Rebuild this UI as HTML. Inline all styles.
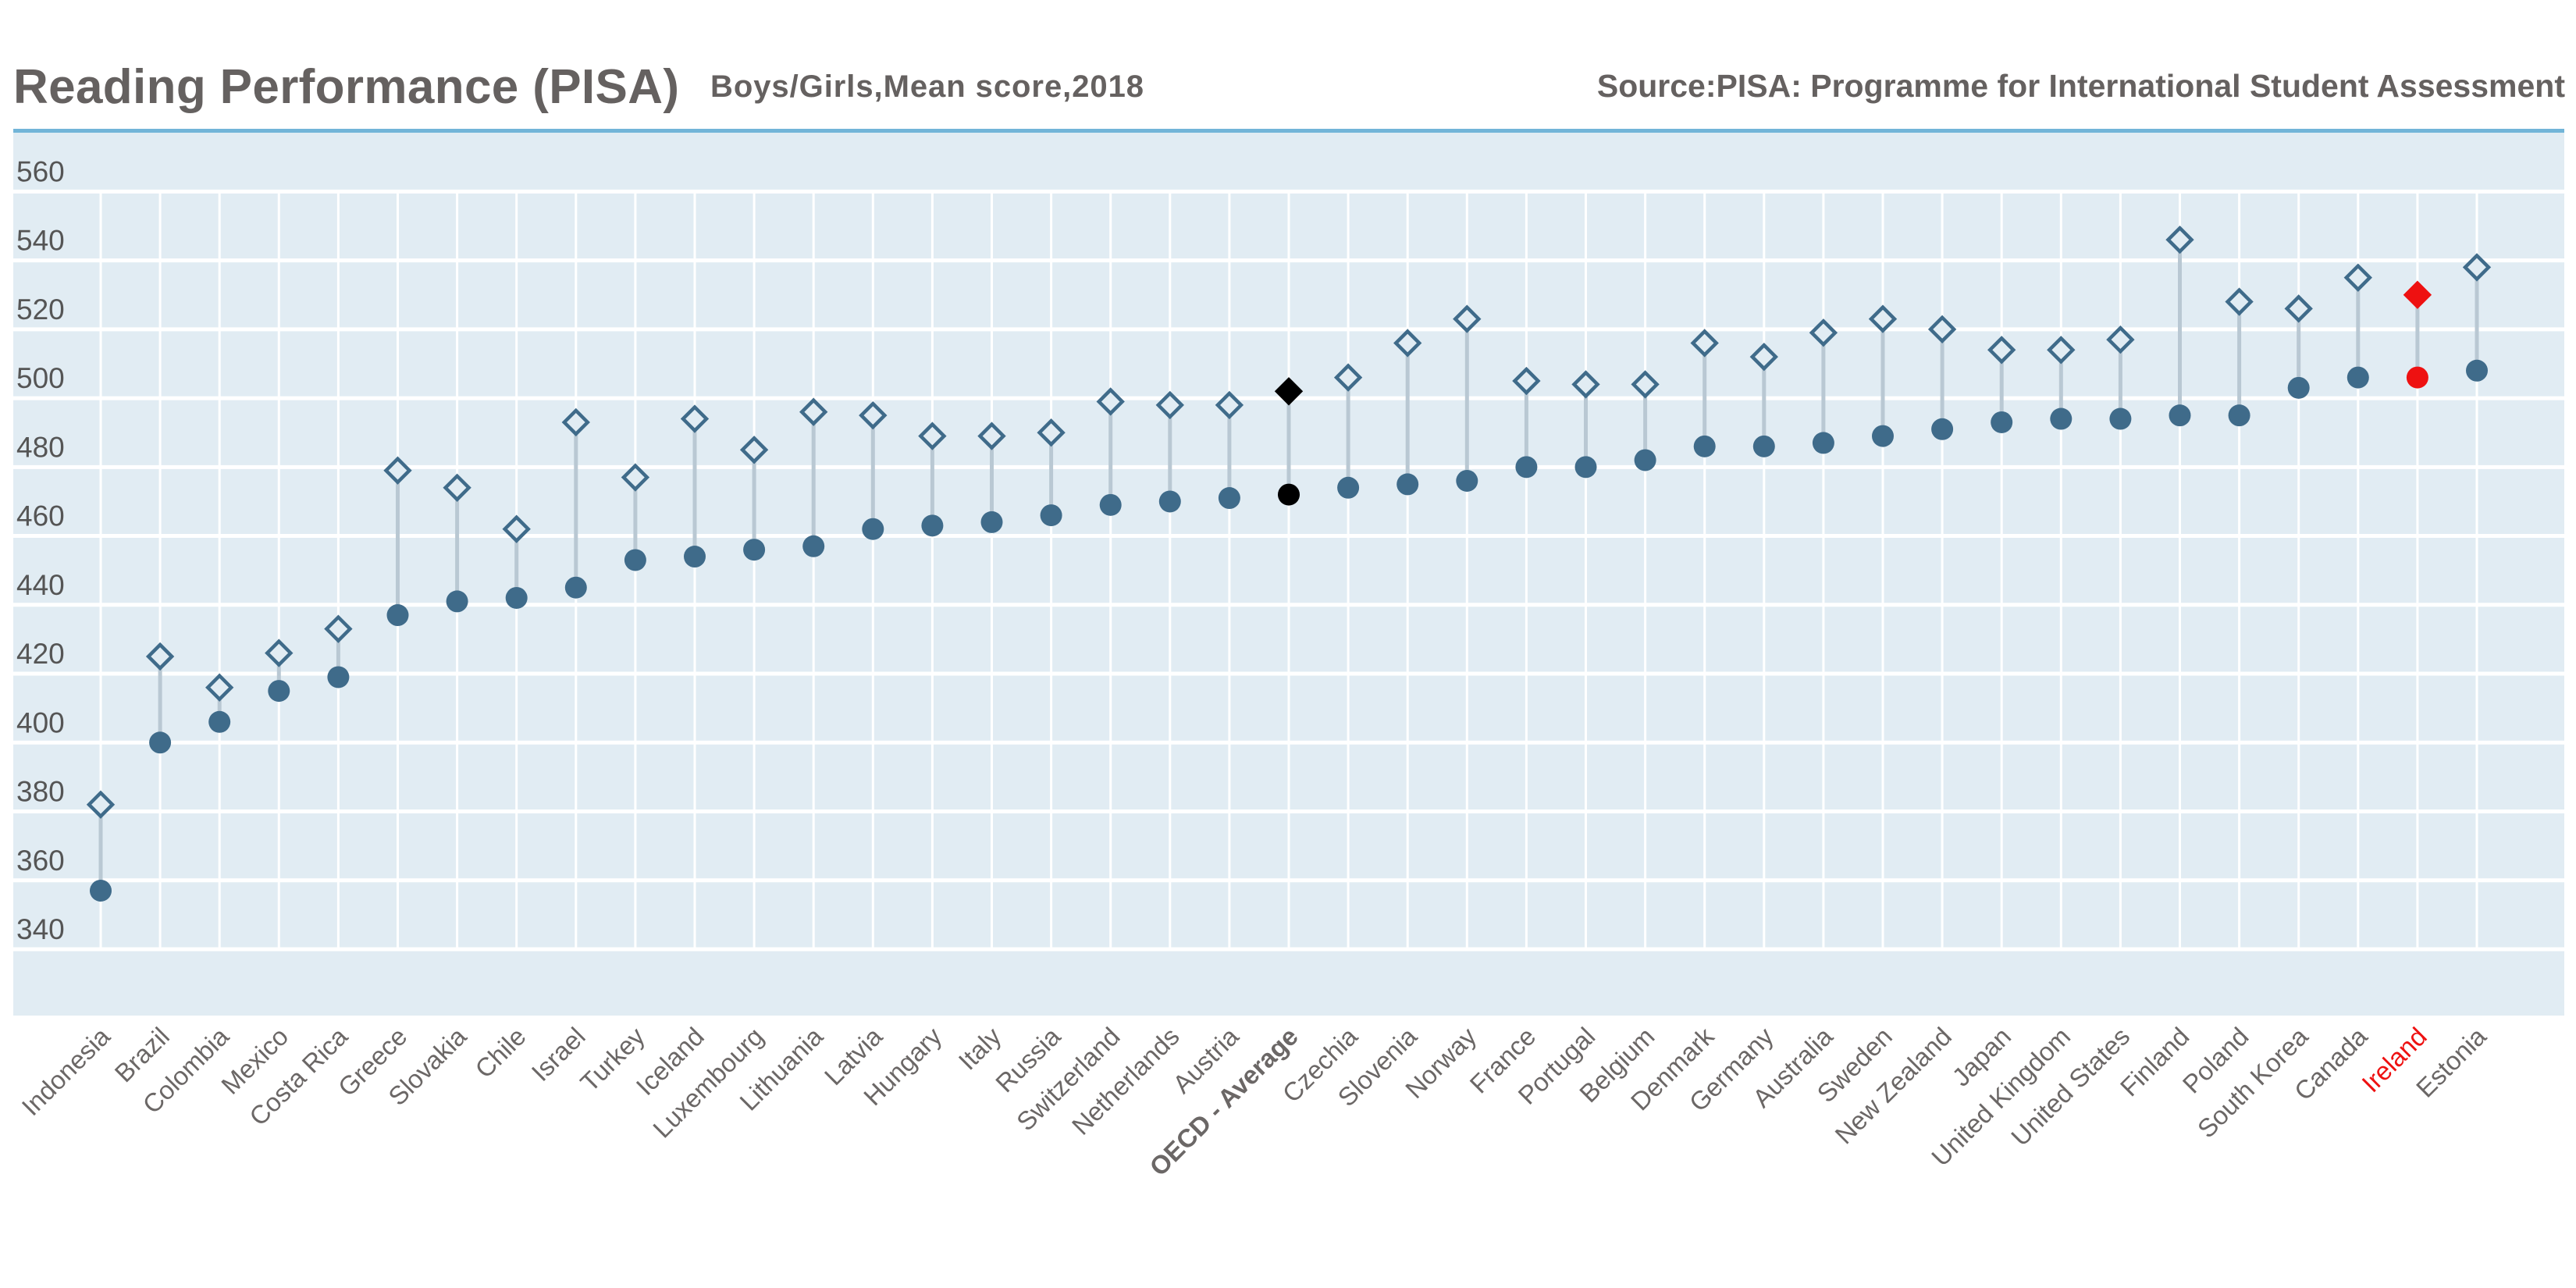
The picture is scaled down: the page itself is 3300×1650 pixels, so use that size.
<!DOCTYPE html>
<html><head><meta charset="utf-8"><style>
html,body{margin:0;padding:0;background:#fff;}
svg{display:block;font-family:"Liberation Sans",Arial,sans-serif;}
</style></head><body>
<svg id="chart" width="3300" height="1650" viewBox="0 0 3300 1650">
<text x="17" y="132" font-size="62" font-weight="bold" fill="#656160" textLength="853">Reading Performance (PISA)</text>
<text x="910" y="124" font-size="40" font-weight="bold" fill="#656160" textLength="555">Boys/Girls,Mean score,2018</text>
<text x="3286" y="124" font-size="41" font-weight="bold" fill="#656160" text-anchor="end">Source:PISA: Programme for International Student Assessment</text>
<rect x="17" y="165" width="3268" height="5" fill="#72b5d8"/>
<rect x="17" y="170" width="3268" height="1131" fill="#e1ecf3"/>
<g id="grid"></g><g id="yaxis"></g><g id="marks"></g><g id="xaxis"></g>
</svg>
<script>
const categories=["Indonesia","Brazil","Colombia","Mexico","Costa Rica","Greece","Slovakia","Chile","Israel","Turkey","Iceland","Luxembourg","Lithuania","Latvia","Hungary","Italy","Russia","Switzerland","Netherlands","Austria","OECD - Average","Czechia","Slovenia","Norway","France","Portugal","Belgium","Denmark","Germany","Australia","Sweden","New Zealand","Japan","United Kingdom","United States","Finland","Poland","South Korea","Canada","Ireland","Estonia"];
const boys=[357,400,406,415,419,437,441,442,445,453,454,456,457,462,463,464,466,469,470,471,472,474,475,476,480,480,482,486,486,487,489,491,493,494,494,495,495,503,506,506,508];
const girls=[382,425,416,426,433,479,474,462,493,477,494,485,496,495,489,489,490,499,498,498,502,506,516,523,505,504,504,516,512,519,523,520,514,514,517,546,528,526,535,530,538];
const yTicks=[340,360,380,400,420,440,460,480,500,520,540,560];
const NS="http://www.w3.org/2000/svg";
const xScale=i=>129+i*76.1;
const yScale=v=>1216-(v-340)*4.412;
function mk(tag,attrs,parent){const e=document.createElementNS(NS,tag);for(const k in attrs)e.setAttribute(k,attrs[k]);parent.appendChild(e);return e;}
const grid=document.getElementById('grid'),yaxis=document.getElementById('yaxis'),marks=document.getElementById('marks'),xaxis=document.getElementById('xaxis');
categories.forEach((c,i)=>{
  const l=mk('line',{x1:xScale(i),x2:xScale(i),y1:yScale(560),y2:yScale(340),stroke:'#ffffff','stroke-width':3},grid);
  
  
});
yTicks.forEach(v=>{
  const l=mk('line',{x1:17,x2:3285,y1:yScale(v),y2:yScale(v),stroke:'#ffffff','stroke-width':5},grid);
  
  
  const t=mk('text',{x:21,y:yScale(v)-13,'font-size':37,fill:'#555555'},yaxis);
  t.textContent=v;
  
  
});
categories.forEach((c,i)=>{
  const x=xScale(i);
  let col='#3f6b8a',fill='none',lab='#6b6766',bold=false;
  if(c==='OECD - Average'){col='#000000';fill='#000000';bold=true;}
  if(c==='Ireland'){col='#ee1111';fill='#ee1111';lab='#ee1111';}
  const yb=yScale(boys[i]),yg=yScale(girls[i]);
  const s=mk('line',{x1:x,x2:x,y1:yb,y2:yg,stroke:'#b9c8d3','stroke-width':5},marks);
  
  
  const d=mk('circle',{cx:x,cy:yb,r:14,fill:col},marks);
  
  
  const h=15;
  const g=mk('polygon',{points:`${x},${yg-h} ${x+h},${yg} ${x},${yg+h} ${x-h},${yg}`,fill:fill==='none'?'#e1ecf3':fill,stroke:col,'stroke-width':4.5},marks);
  
  
  const t=mk('text',{x:x+14,y:1330,'font-size':33,fill:lab,'text-anchor':'end',transform:`rotate(-45 ${x+14} 1330)`},xaxis);
  if(bold)t.setAttribute('font-weight','bold');
  t.textContent=c;
  
  
});
</script>
</body></html>
